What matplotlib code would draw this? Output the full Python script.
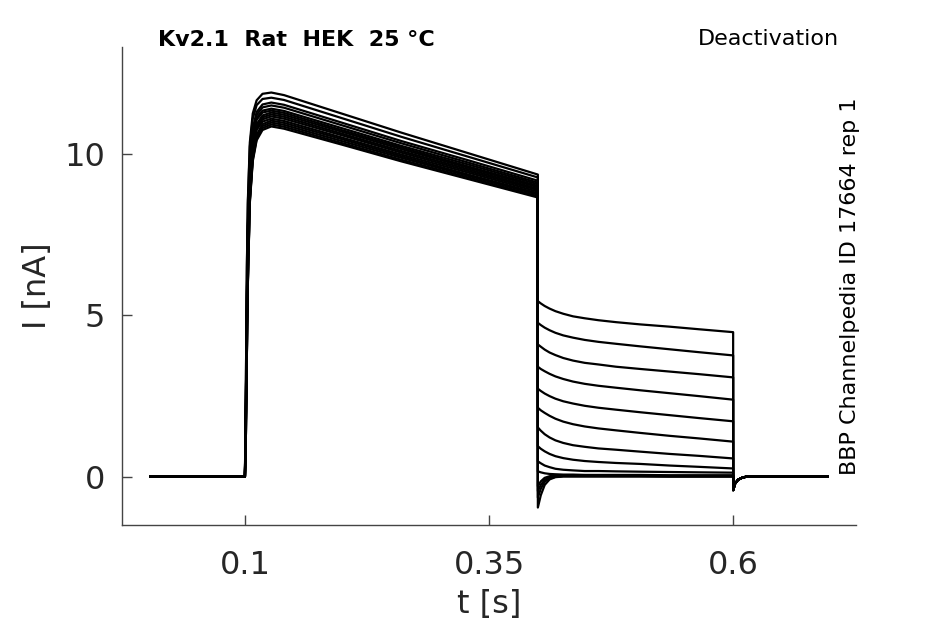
import matplotlib
matplotlib.use("Agg")
import matplotlib.pyplot as plt

# holding level before the step (s, nA)
pre_t = [0.003, 0.1]
pre_i = [0.0, 0.0]

# activation step, 0.1 - 0.4 s, one row per sweep
act_t = [0.1, 0.101, 0.102, 0.103, 0.105, 0.108, 0.112, 0.118, 0.127, 0.14, 0.2, 0.26, 0.33, 0.4]
act_i = [
    [0, 2.97, 6.54, 8.56, 10.34, 11.24, 11.65, 11.85, 11.89, 11.81, 11.23, 10.65, 10.00, 9.35],
    [0, 2.93, 6.45, 8.45, 10.21, 11.08, 11.50, 11.69, 11.73, 11.66, 11.09, 10.52, 9.89, 9.26],
    [0, 2.32, 5.56, 7.76, 9.73, 10.77, 11.29, 11.52, 11.58, 11.51, 10.95, 10.39, 9.78, 9.16],
    [0, 2.30, 5.52, 7.70, 9.65, 10.69, 11.20, 11.43, 11.49, 11.42, 10.87, 10.32, 9.71, 9.10],
    [0, 2.28, 5.47, 7.63, 9.57, 10.59, 11.11, 11.33, 11.39, 11.32, 10.78, 10.24, 9.65, 9.05],
    [0, 2.27, 5.44, 7.59, 9.52, 10.54, 11.05, 11.27, 11.33, 11.26, 10.72, 10.19, 9.59, 9.00],
    [0, 1.80, 4.73, 6.87, 9.13, 10.31, 10.91, 11.18, 11.27, 11.20, 10.67, 10.14, 9.55, 8.96],
    [0, 1.79, 4.71, 6.84, 9.08, 10.26, 10.85, 11.12, 11.21, 11.14, 10.61, 10.08, 9.50, 8.91],
    [0, 1.78, 4.68, 6.80, 9.03, 10.20, 10.79, 11.06, 11.15, 11.08, 10.56, 10.03, 9.45, 8.87],
    [0, 1.77, 4.65, 6.76, 8.97, 10.14, 10.73, 10.99, 11.08, 11.01, 10.49, 9.97, 9.40, 8.82],
    [0, 1.32, 3.86, 6.06, 8.60, 9.92, 10.58, 10.91, 11.02, 10.95, 10.44, 9.92, 9.34, 8.77],
    [0, 1.32, 3.84, 6.03, 8.55, 9.86, 10.52, 10.85, 10.96, 10.89, 10.38, 9.87, 9.30, 8.73],
    [0, 1.31, 3.82, 6.00, 8.50, 9.81, 10.46, 10.79, 10.90, 10.83, 10.32, 9.81, 9.25, 8.68],
    [0, 1.30, 3.79, 5.96, 8.46, 9.76, 10.41, 10.73, 10.84, 10.77, 10.27, 9.76, 9.20, 8.64],
]

# tail currents, 0.4 - 0.6 s
tail_t = [0.4, 0.403, 0.407, 0.412, 0.418, 0.426, 0.436, 0.448, 0.462, 0.48, 0.505, 0.535, 0.565, 0.6]
tail_i = [
    [5.43, 5.36, 5.28, 5.20, 5.12, 5.04, 4.96, 4.90, 4.84, 4.78, 4.71, 4.64, 4.56, 4.47],
    [4.76, 4.69, 4.61, 4.53, 4.45, 4.37, 4.30, 4.23, 4.17, 4.11, 4.03, 3.94, 3.85, 3.75],
    [4.09, 4.02, 3.93, 3.84, 3.76, 3.67, 3.59, 3.52, 3.47, 3.40, 3.33, 3.25, 3.17, 3.07],
    [3.40, 3.33, 3.26, 3.18, 3.10, 3.02, 2.94, 2.87, 2.81, 2.75, 2.67, 2.58, 2.49, 2.38],
    [2.72, 2.65, 2.57, 2.49, 2.41, 2.33, 2.26, 2.19, 2.13, 2.07, 1.99, 1.90, 1.81, 1.71],
    [2.13, 2.05, 1.97, 1.88, 1.79, 1.70, 1.62, 1.55, 1.49, 1.43, 1.35, 1.26, 1.18, 1.08],
    [1.52, 1.42, 1.31, 1.21, 1.12, 1.04, 0.97, 0.92, 0.87, 0.83, 0.77, 0.70, 0.64, 0.56],
    [0.94, 0.86, 0.78, 0.70, 0.63, 0.57, 0.52, 0.48, 0.45, 0.42, 0.39, 0.34, 0.30, 0.25],
    [0.47, 0.41, 0.34, 0.29, 0.24, 0.21, 0.19, 0.17, 0.17, 0.16, 0.15, 0.14, 0.13, 0.12],
    [0.16, 0.13, 0.10, 0.08, 0.07, 0.06, 0.06, 0.05, 0.05, 0.05, 0.05, 0.04, 0.04, 0.04],
    [-0.30, -0.15, -0.04, 0.01, 0.03, 0.03, 0.03, 0.03, 0.03, 0.03, 0.03, 0.02, 0.02, 0.02],
    [-0.45, -0.26, -0.10, -0.02, 0.01, 0.02, 0.02, 0.02, 0.02, 0.02, 0.02, 0.01, 0.01, 0.01],
    [-0.65, -0.38, -0.16, -0.05, -0.01, 0.01, 0.01, 0.01, 0.01, 0.01, 0.01, 0.00, 0.00, 0.00],
    [-0.96, -0.58, -0.26, -0.09, -0.02, 0.00, 0.00, 0.00, 0.00, 0.00, 0.00, 0.00, 0.00, 0.00],
]

# back to holding after 0.6 s
off_t = [0.6, 0.602, 0.605, 0.609, 0.614, 0.697]
off_i = [-0.42, -0.22, -0.10, -0.04, 0.0, 0.0]

x_ticks = [0.1, 0.35, 0.6]
x_tick_labels = ["0.1", "0.35", "0.6"]
y_ticks = [0, 5, 10]

fig = plt.figure(figsize=(9.45, 6.24), dpi=100)
ax = fig.add_axes([0.129, 0.1587, 0.777, 0.766])

for a_row, t_row in zip(act_i, tail_i):
    t = pre_t + act_t + tail_t + off_t
    i = pre_i + a_row + t_row + off_i
    ax.plot(t, i, color="black", lw=1.6)

ax.set_xlim(-0.026, 0.726)
ax.set_ylim(-1.5, 13.3)
ax.set_xticks(x_ticks)
ax.set_xticklabels(x_tick_labels)
ax.set_yticks(y_ticks)

for side in ["top", "right"]:
    ax.spines[side].set_visible(False)
for side in ["left", "bottom"]:
    ax.spines[side].set_color("#444444")
    ax.spines[side].set_linewidth(1.0)

ax.tick_params(direction="in", length=7, width=1, colors="#444444",
               labelcolor="#262626", labelsize=23)
ax.tick_params(axis="x", pad=18)
ax.tick_params(axis="y", pad=12)
ax.set_xlabel("t [s]", fontsize=23, color="#262626", labelpad=6)
ax.set_ylabel("I [nA]", fontsize=23, color="#262626", labelpad=8)

fig.text(158 / 945, 1 - 40 / 624, "Kv2.1  Rat  HEK  25 °C", fontsize=16,
         fontweight="bold", ha="left", va="center")
fig.text(839 / 945, 1 - 39 / 624, "Deactivation", fontsize=16,
         ha="right", va="center")
fig.text(850 / 945, 1 - 475 / 624, "BBP Channelpedia ID 17664 rep 1",
         fontsize=16, rotation=90, ha="center", va="bottom")

fig.savefig("out.png", dpi=100)
